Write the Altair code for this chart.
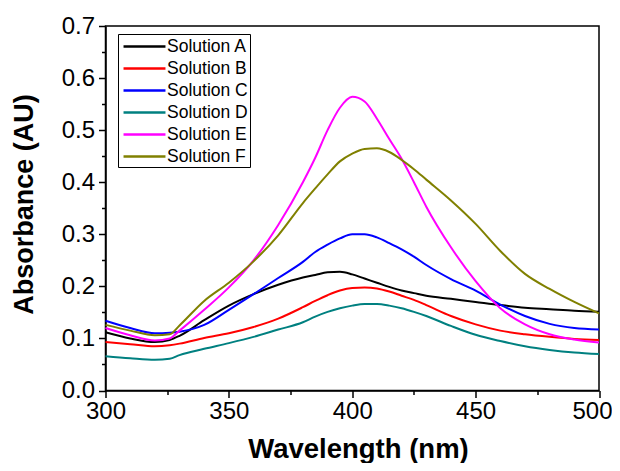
import altair as alt
import pandas as pd

wavelength = [300, 310, 320, 326, 330, 340, 350, 360, 370, 380, 385, 390, 395, 400,
              405, 410, 415, 420, 425, 430, 440, 450, 460, 470, 480, 490, 500]

sol_a = [0.112, 0.100, 0.093, 0.097, 0.105, 0.135, 0.163, 0.185, 0.203, 0.217, 0.222, 0.227, 0.228, 0.223,
         0.215, 0.207, 0.199, 0.192, 0.187, 0.182, 0.176, 0.170, 0.164, 0.159, 0.156, 0.153, 0.151]
sol_b = [0.093, 0.089, 0.085, 0.087, 0.090, 0.101, 0.110, 0.122, 0.138, 0.160, 0.172, 0.183, 0.192, 0.197,
         0.198, 0.196, 0.190, 0.182, 0.174, 0.164, 0.143, 0.127, 0.115, 0.108, 0.103, 0.099, 0.097]
sol_c = [0.134, 0.120, 0.110, 0.111, 0.113, 0.126, 0.155, 0.185, 0.216, 0.247, 0.266, 0.280, 0.292, 0.300,
         0.300, 0.294, 0.283, 0.271, 0.257, 0.241, 0.214, 0.192, 0.165, 0.143, 0.128, 0.120, 0.117]
sol_d = [0.066, 0.062, 0.059, 0.061, 0.068, 0.080, 0.091, 0.103, 0.117, 0.131, 0.142, 0.151, 0.158, 0.163,
         0.166, 0.166, 0.163, 0.158, 0.151, 0.143, 0.124, 0.107, 0.095, 0.085, 0.078, 0.073, 0.070]
sol_e = [0.120, 0.106, 0.096, 0.100, 0.115, 0.155, 0.198, 0.250, 0.318, 0.400, 0.447, 0.500, 0.543, 0.564,
         0.555, 0.522, 0.483, 0.445, 0.400, 0.353, 0.275, 0.210, 0.158, 0.127, 0.108, 0.098, 0.092]
sol_f = [0.126, 0.115, 0.106, 0.108, 0.125, 0.172, 0.207, 0.248, 0.298, 0.360, 0.388, 0.415, 0.440, 0.455,
         0.464, 0.465, 0.458, 0.443, 0.425, 0.405, 0.365, 0.320, 0.268, 0.224, 0.195, 0.170, 0.148]

series_names = ["Solution A", "Solution B", "Solution C", "Solution D", "Solution E", "Solution F"]
series_values = [sol_a, sol_b, sol_c, sol_d, sol_e, sol_f]
series_colors = ["#000000", "#FF0000", "#0000FF", "#008080", "#FF00FF", "#808000"]

x_ticks = [300, 325, 350, 375, 400, 425, 450, 475, 500]
y_ticks = [round(i * 0.05, 2) for i in range(15)]

rows = []
for name, vals in zip(series_names, series_values):
    for w, v in zip(wavelength, vals):
        rows.append({"Wavelength": w, "Absorbance": v, "Series": name, "order": series_names.index(name)})
df = pd.DataFrame(rows)

FONT = "Arial, Liberation Sans, sans-serif"

chart = alt.Chart(df).mark_line(strokeWidth=2, interpolate="monotone").encode(
    x=alt.X("Wavelength:Q",
            scale=alt.Scale(domain=[300, 500], nice=False, zero=False),
            axis=alt.Axis(
                title="Wavelength (nm)",
                values=x_ticks,
                labelExpr="datum.value % 50 === 0 ? datum.label : ''",
                tickSize={"condition": {"test": "datum.value % 50 === 0", "value": 7}, "value": 4},
                labelOffset={"condition": {"test": "datum.value === 500", "value": -7}, "value": 0},
                titleX=252.5, titleY=67, titleAlign="center", titleBaseline="alphabetic",
                labelPadding=2,
            )),
    y=alt.Y("Absorbance:Q",
            scale=alt.Scale(domain=[0, 0.7], nice=False),
            axis=alt.Axis(
                title="Absorbance (AU)",
                values=y_ticks,
                labelExpr="round(datum.value * 100) % 10 === 0 ? format(datum.value, '.1f') : ''",
                tickSize={"condition": {"test": "round(datum.value * 100) % 10 === 0", "value": 7}, "value": 4},
                titleX=-81, titleY=178, titleAlign="center", titleBaseline="middle", titleAngle=-90,
                titleFontSize=27,
                labelPadding=4,
            )),
    color=alt.Color("Series:N",
                    scale=alt.Scale(domain=series_names, range=series_colors),
                    legend=alt.Legend(
                        title=None, orient="none", legendX=12.5, legendY=8,
                        symbolType="M-2.33,0H2.33", symbolSize=324, symbolStrokeWidth=2.5,
                        labelFontSize=17.5, labelFont=FONT, labelColor="#000000",
                        rowPadding=3, labelOffset=12, symbolOffset=14,
                        strokeColor="#000000", padding=2,
                    )),
    order="order:Q",
).properties(
    width=493.5, height=364.5,
    autosize=alt.AutoSizeParams(type="none"),
    padding={"left": 97.5, "top": 18, "right": 13, "bottom": 72.5},
).configure_view(
    stroke="#000000", strokeWidth=1.5
).configure_axis(
    grid=False, domainColor="#000000", domainWidth=1.5, tickColor="#000000", tickWidth=1.5,
    labelFont=FONT, labelFontSize=24, labelColor="#000000",
    titleFont=FONT, titleFontSize=27.5, titleFontWeight="bold", titleColor="#000000",
    labelFlush=False, labelOverlap=False,
)

chart.save("out.html", embed_options={"renderer": "svg", "actions": False})
